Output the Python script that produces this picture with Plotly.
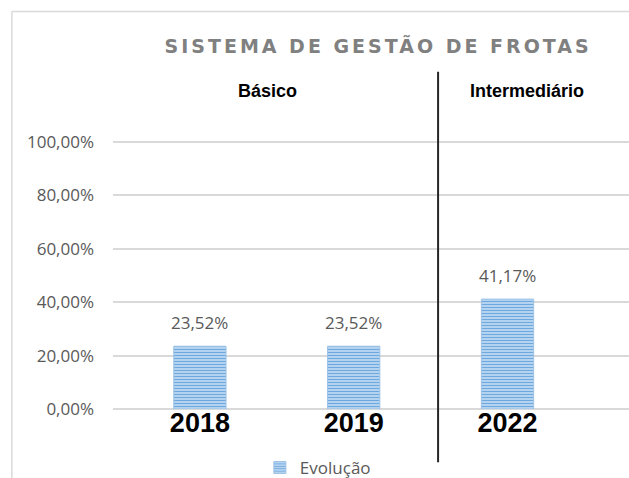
import plotly.graph_objects as go

# dados
anos = ["2018", "2019", "2022"]
evolucao = [0.2352, 0.2352, 0.4117]
niveis = ["Básico", "Intermediário"]
titulo = "SISTEMA DE GESTÃO DE FROTAS"

azul_fundo = "#A7CBEE"
azul_linha = "#6FA8DC"
cinza_texto = "#595959"

fig = go.Figure()

fig.add_trace(go.Bar(
    x=anos, y=evolucao, name="Evolução", width=0.34,
    marker=dict(
        color=azul_fundo,
        line=dict(color="#9DC3E6", width=1),
        pattern=dict(shape="-", size=3, solidity=0.38,
                     fgcolor=azul_linha, bgcolor="#B8D6F3", fillmode="replace"),
    ),
    hovertemplate="%{x}: %{y:.2%}<extra></extra>",
))

# rótulos de dados acima das barras (x pelo índice da categoria)
for i, v in enumerate(evolucao):
    fig.add_annotation(
        x=i, y=v, xref="x", yref="y", text=f"{v:.2%}".replace(".", ","),
        showarrow=False, xanchor="center", yanchor="middle", yshift=24,
        font=dict(family="Open Sans", size=17, color=cinza_texto),
    )

# linha separando os níveis
fig.add_shape(type="line", xref="paper", yref="paper",
              x0=0.630, x1=0.630, y0=-0.199, y1=1.258,
              line=dict(color="#262626", width=2))

# borda do gráfico (esquerda e topo)
fig.add_shape(type="line", xref="paper", yref="paper",
              x0=-0.196, x1=-0.196, y0=-0.30, y1=1.483,
              line=dict(color="#D9D9D9", width=1.5))
fig.add_shape(type="line", xref="paper", yref="paper",
              x0=-0.196, x1=1.1, y0=1.483, y1=1.483,
              line=dict(color="#D9D9D9", width=1.5))

# níveis
fig.add_annotation(x=0.300, y=1.187, xref="paper", yref="paper", text=f"<b>{niveis[0]}</b>",
                   showarrow=False, xanchor="center", yanchor="middle",
                   font=dict(family="Liberation Sans", size=18, color="black"))
fig.add_annotation(x=0.802, y=1.187, xref="paper", yref="paper", text=f"<b>{niveis[1]}</b>",
                   showarrow=False, xanchor="center", yanchor="middle",
                   font=dict(family="Liberation Sans", size=18, color="black"))

# título
fig.add_annotation(x=0.5136, y=1.356, xref="paper", yref="paper", text=f"<b>{titulo}</b>",
                   showarrow=False, xanchor="center", yanchor="middle",
                   font=dict(family="DejaVu Sans", size=19, color="#808080"))

fig.update_layout(
    width=629, height=478,
    margin=dict(l=113, r=0, t=141, b=69),
    paper_bgcolor="white", plot_bgcolor="white",
    separators=",.",
    showlegend=True,
    legend=dict(orientation="h", x=0.397, xanchor="center",
                yref="container", y=0.021, yanchor="middle",
                font=dict(family="Open Sans", size=17, color=cinza_texto),
                itemwidth=30),
    xaxis=dict(
        type="category", range=[-0.565, 2.79], automargin=False,
        showgrid=False, showline=False, zeroline=False, ticks="",
        tickfont=dict(family="Liberation Sans", size=27, color="black", weight="bold"),
        ticklabelstandoff=-5,
    ),
    yaxis=dict(
        range=[0, 1.004], tickvals=[0, 0.2, 0.4, 0.6, 0.8, 1.0], tickformat=".2%",
        automargin=False,
        showgrid=True, gridcolor="#D9D9D9", gridwidth=1.5,
        zeroline=True, zerolinecolor="#D9D9D9", zerolinewidth=1.5,
        showline=False, ticks="",
        tickfont=dict(family="Open Sans", size=17, color=cinza_texto),
        ticklabelstandoff=18,
    ),
)

# página sem margem e título com espaçamento entre letras
js = """
document.body.style.margin = '0';
document.querySelectorAll('.annotation-text').forEach(function (t) {
  if (t.textContent.indexOf('SISTEMA') === 0) { t.setAttribute('letter-spacing', '3px'); }
});
"""
fig.write_html("out.html", post_script=js, config={"displayModeBar": False})
